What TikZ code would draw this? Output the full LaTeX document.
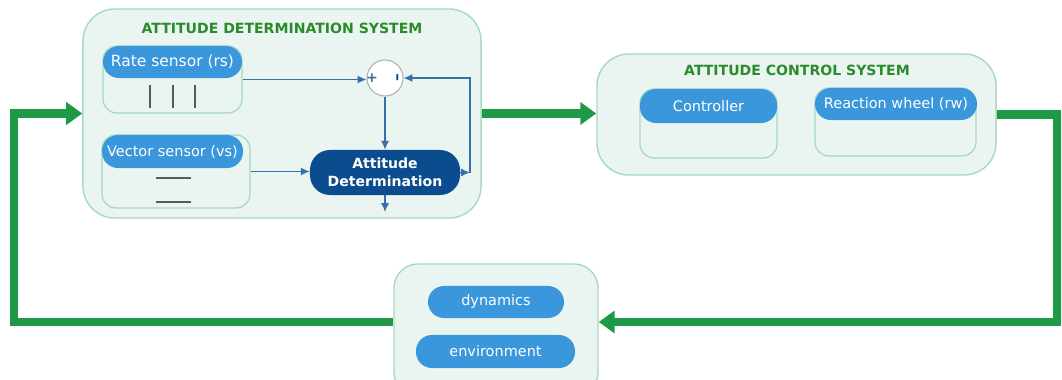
\documentclass[tikz,border=0pt]{standalone}
\usepackage{fontspec}
\setmainfont{DejaVu Sans}
\usetikzlibrary{arrows.meta}

\definecolor{boxfill}{HTML}{EAF5F1}
\definecolor{boxline}{HTML}{A6D9C5}
\definecolor{pillblue}{HTML}{3A97DB}
\definecolor{navy}{HTML}{0B4C8E}
\definecolor{sigblue}{HTML}{3670A8}
\definecolor{titlegreen}{HTML}{2B8B2B}
\definecolor{loopgreen}{HTML}{1E9A47}

\tikzset{
    system/.style={draw=boxline, fill=boxfill, line width=1pt, rounded corners=0.8cm, inner sep=0pt},
    unitbody/.style={draw=boxline, fill=boxfill, line width=0.9pt, rounded corners=0.35cm, inner sep=0pt},
    pill/.style={fill=pillblue, text=white, rounded corners=0.4cm, inner sep=0pt, font=\fontsize{10.3}{12}\selectfont},
    systitle/.style={text=titlegreen, font=\bfseries\fontsize{10}{12}\selectfont},
    sigline/.style={draw=sigblue, line width=0.9pt, -{Latex[length=0.22cm, width=0.2cm]}},
    greenline/.style={draw=loopgreen, line width=0.2cm, -{Triangle[length=0.4cm, width=0.55cm]}}
}

\begin{document}
\begin{tikzpicture}[x=0.025cm, y=-0.025cm]

    % Canvas
    \fill [white] (0, 0) rectangle (1062, 380);
    \useasboundingbox (0, 0) rectangle (1062, 380);

    % Systems
    \node [system, minimum width=9.95cm, minimum height=5.225cm] (ads) at (282, 113.5) {};
    \node [system, minimum width=9.975cm, minimum height=3.025cm] (acs) at (796.5, 114.5) {};
    \node [system, rounded corners=0.6cm, minimum width=5.1cm, minimum height=3.3cm] (world) at (496, 330) {};

    % Titles
    \node [systitle] (adstitle) at (282, 28) {ATTITUDE DETERMINATION SYSTEM};
    \node [systitle] (acstitle) at (797, 70) {ATTITUDE CONTROL SYSTEM};

    % Sensors
    \node [unitbody, minimum width=3.475cm, minimum height=1.675cm] (rate) at (172.5, 79.5) {};
    \node [pill, font=\fontsize{11}{13}\selectfont, minimum width=3.475cm, minimum height=0.8cm] (ratehead) at (172.5, 62) {Rate sensor (rs)};
    \node [unitbody, minimum width=3.7cm, minimum height=1.825cm] (vec) at (176, 171.5) {};
    \node [pill, minimum width=3.525cm, minimum height=0.825cm] (vechead) at (172.5, 151.5) {Vector sensor (vs)};

    % Sensor marks
    \foreach \x in {150, 173, 195} {
            \draw [black!65, line width=1.1pt] (\x, 85) -- (\x, 108);
        }
    \foreach \y in {178, 202} {
            \draw [black!65, line width=1.1pt] (156, \y) -- (191, \y);
        }

    % Comparator and estimator
    \node [circle, draw=black!30, fill=white, line width=0.8pt, minimum size=0.9cm, inner sep=0pt] (sum) at (385, 78) {};
    \node [text=sigblue, font=\bfseries\fontsize{10}{12}\selectfont] (plus) at (372, 78) {+};
    \node [text=navy, rotate=90, font=\bfseries\fontsize{11}{12}\selectfont] (minus) at (399, 78) {–};
    \node [fill=navy, text=white, rounded corners=0.5cm, inner sep=0pt, minimum width=3.75cm, minimum height=1.125cm,
        align=center, font=\bfseries\fontsize{10}{12.5}\selectfont] (ad) at (385, 172.5) {Attitude\\Determination};

    % Control units
    \node [unitbody, minimum width=3.425cm, minimum height=1.725cm] (ctrl) at (708.5, 123.5) {};
    \node [pill, minimum width=3.425cm, minimum height=0.85cm] (ctrlhead) at (708.5, 106) {Controller};
    \node [unitbody, minimum width=4.025cm, minimum height=1.7cm] (rw) at (895.5, 122) {};
    \node [pill, minimum width=4.05cm, minimum height=0.8cm] (rwhead) at (896, 104) {Reaction wheel (rw)};

    % Plant
    \node [pill, minimum width=3.4cm, minimum height=0.8cm] (dyn) at (496, 302) {dynamics};
    \node [pill, minimum width=3.975cm, minimum height=0.825cm] (env) at (495.5, 351.5) {environment};

    % Signals
    \coordinate (fb) at (470, 78);
    \coordinate (adout) at (385, 212);
    \draw [sigline] (rate.east) -- (rate.east -| sum.west);
    \draw [sigline] (vec.east) -- (vec.east -| ad.west);
    \draw [sigline] (sum.south) -- (ad.north);
    \draw [sigline] (ad.east) -- (ad.east -| fb);
    \draw [sigline] (ad.east -| fb) -- (fb) -- (sum.east);
    \draw [sigline] (ad.south) -- (adout);

    % Main loop
    \coordinate (rcorner) at (1057, 322);
    \coordinate (lcorner) at (14, 322);
    \draw [greenline] (ads.east) -- (ads.east -| acs.west);
    \draw [greenline] (acs.east) -| (rcorner) -- (rcorner -| world.east);
    \draw [greenline] (world.west |- lcorner) -- (lcorner) |- (ads.west);

\end{tikzpicture}
\end{document}
